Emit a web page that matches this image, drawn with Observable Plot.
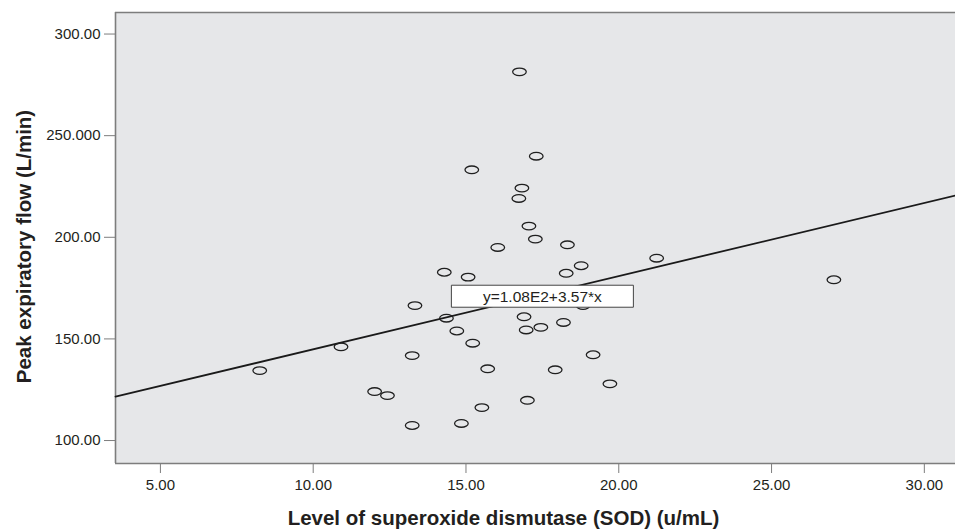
<!DOCTYPE html>
<html>
<head>
<meta charset="utf-8">
<script src="https://cdn.jsdelivr.net/npm/d3@7"></script>
<script src="https://cdn.jsdelivr.net/npm/@observablehq/plot@0.6"></script>
<style>
  html, body { margin: 0; padding: 0; background: #fff; overflow: hidden; }
  #chart { position: relative; width: 955px; height: 530px; }
</style>
</head>
<body>
<div id="chart"></div>
<script>
// ---- Data ----
const sodLevel = [8.25, 10.91, 12.01, 12.43, 13.24, 13.24, 13.33, 14.29, 14.36, 14.70,
  14.85, 15.07, 15.19, 15.22, 15.52, 15.71, 16.04, 16.73, 16.75, 16.83,
  16.90, 16.97, 17.01, 17.06, 17.27, 17.30, 17.45, 17.92, 18.19, 18.28,
  18.32, 18.77, 18.83, 19.16, 19.71, 21.24, 27.04];
const peakFlow = [134.4, 146.1, 124.1, 122.1, 141.8, 107.4, 166.4, 182.8, 160.2, 153.9,
  108.4, 180.4, 233.2, 147.9, 116.2, 135.3, 195.0, 219.1, 281.4, 224.2,
  160.9, 154.4, 119.8, 205.5, 199.1, 239.9, 155.7, 134.8, 158.1, 182.3,
  196.3, 186.0, 166.4, 142.2, 127.9, 189.7, 179.1];
const xTicks = [5, 10, 15, 20, 25, 30];
const yTicks = [100, 150, 200, 250, 300];
const yTickLabels = ["100.00", "150.00", "200.00", "250.000", "300.00"];
const fitIntercept = 108.9;   // drawn fit line (label reads 1.08E2 + 3.57x)
const fitSlope = 3.6;
const eqText = "y=1.08E2+3.57*x";
const eqLabelX = 17.5;
const eqLabelY = 171;
const xTitle = "Level of superoxide dismutase (SOD) (u/mL)";
const yTitle = "Peak expiratory flow (L/min)";
const xDomain = [3.53, 31.02];
const yDomain = [88.7, 310.6];

// ---- Build ----
const points = sodLevel.map((x, i) => ({x, y: peakFlow[i]}));
const fitLine = xDomain.map(x => ({x, y: fitIntercept + fitSlope * x}));

const ellipse = {
  draw(ctx) {
    const rx = 6.8, ry = 3.8, k = 0.5523;
    ctx.moveTo(rx, 0);
    ctx.bezierCurveTo(rx, ry * k, rx * k, ry, 0, ry);
    ctx.bezierCurveTo(-rx * k, ry, -rx, ry * k, -rx, 0);
    ctx.bezierCurveTo(-rx, -ry * k, -rx * k, -ry, 0, -ry);
    ctx.bezierCurveTo(rx * k, -ry, rx, -ry * k, rx, 0);
    ctx.closePath();
  }
};
const labelBox = {
  draw(ctx) { ctx.rect(-91, -11, 182, 22); }
};

const FONT = "'Liberation Sans', Arial, Helvetica, sans-serif";
const frameColor = "#7d7d7d";

const svgPlot = Plot.plot({
  width: 955,
  height: 530,
  marginLeft: 115,
  marginRight: 0,
  marginTop: 12,
  marginBottom: 67,
  style: {fontFamily: FONT, fontSize: "15px", color: "#231f20", background: "#fff", overflow: "visible"},
  x: {domain: xDomain, ticks: xTicks, tickFormat: d3.format(".2f"), tickSize: 10, tickPadding: 6, label: null},
  y: {domain: yDomain, ticks: yTicks, tickFormat: d => yTickLabels[yTicks.indexOf(d)], tickSize: 11, tickPadding: 4, label: null},
  marks: [
    Plot.frame({fill: "#e6e7e9", stroke: "none"}),
    Plot.ruleX([xDomain[0]], {stroke: frameColor, strokeWidth: 1.6}),
    Plot.ruleY([yDomain[0]], {stroke: frameColor, strokeWidth: 1.6}),
    Plot.ruleY([yDomain[1]], {stroke: frameColor, strokeWidth: 1.6}),
    Plot.line(fitLine, {x: "x", y: "y", stroke: "#1a1a1a", strokeWidth: 1.8}),
    Plot.dot(points, {x: "x", y: "y", symbol: ellipse, r: 4, fill: "none", stroke: "#1f1f1f", strokeWidth: 1.3}),
    Plot.dot([{x: eqLabelX, y: eqLabelY}], {x: "x", y: "y", symbol: labelBox, r: 4, fill: "#fff", stroke: "#444", strokeWidth: 1}),
    Plot.text([{x: eqLabelX, y: eqLabelY, t: eqText}], {x: "x", y: "y", text: "t", fontSize: 15.5, fill: "#231f20", dy: 1})
  ]
});

const svg = d3.select(svgPlot);
svg.selectAll('g[aria-label^="x-axis"] line, g[aria-label^="x-axis"] path, g[aria-label^="y-axis"] line, g[aria-label^="y-axis"] path')
  .attr("stroke", frameColor);

svg.append("text")
  .attr("x", 503.5).attr("y", 525)
  .attr("text-anchor", "middle")
  .attr("font-family", FONT).attr("font-weight", "bold").attr("font-size", 20.5)
  .attr("fill", "#231f20")
  .text(xTitle);
svg.append("text")
  .attr("transform", "translate(31,246.5) rotate(-90)")
  .attr("text-anchor", "middle")
  .attr("font-family", FONT).attr("font-weight", "bold").attr("font-size", 20.5)
  .attr("fill", "#231f20")
  .text(yTitle);

document.getElementById("chart").appendChild(svgPlot);
</script>
</body>
</html>
